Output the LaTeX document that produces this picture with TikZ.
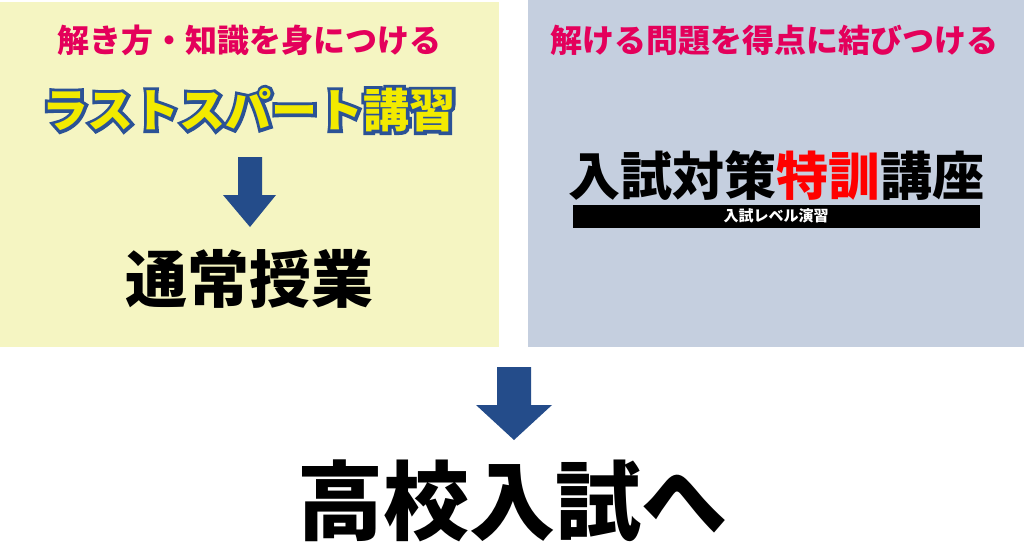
\documentclass[tikz,border=0pt]{standalone}
\usepackage{fontspec}
\usepackage{tikz}
\newfontfamily\jpblack{Noto Sans CJK JP Black}
\newfontfamily\jpedge{Noto Sans CJK JP Black}[FakeBold=14]
\definecolor{panelyellow}{HTML}{F5F5C2}
\definecolor{panelblue}{HTML}{C5CFDF}
\definecolor{arrowblue}{HTML}{244C8A}
\definecolor{headpink}{HTML}{E4005B}
\definecolor{titleyellow}{HTML}{F2EA00}
\definecolor{titleedge}{HTML}{2B5296}

\begin{document}
\begin{tikzpicture}[x=1pt,y=-1pt,
    heading/.style={
% The font:
      font=\jpblack\fontsize{32}{32}\selectfont,
% The colour:
      text=headpink, inner sep=0pt
    },
    bigword/.style={
      font=\jpblack\fontsize{#1}{#1}\selectfont,
      text=black, inner sep=0pt
    },
    blockarrow/.style={fill=arrowblue}]
  \useasboundingbox (0,0) rectangle (1024,542);
  % the two panels
  \fill[panelyellow] (0,2) rectangle (499,347);
  \fill[panelblue] (528,0) rectangle (1024,347);

  % left panel
  \node [heading] (skill) at (249,40) {解き方・知識を身につける};
  \node [inner sep=0pt, text=titleedge, font=\jpedge\fontsize{46}{46}\selectfont]
    (spurtedge) at (249,110) {ラストスパート講習};
  \node [bigword=46, text=titleyellow] (spurt) at (spurtedge) {ラストスパート講習};
  \fill[blockarrow] (238,157) -- (262,157) -- (262,195) -- (276,195)
    -- (250,227) -- (223,195) -- (238,195) -- cycle;
  \node [bigword=62] (regular) at (249,279) {通常授業};

  % right panel
  \node [heading] (score) at (774,40) {解ける問題を得点に結びつける};
  \node [bigword=52] (special) at (776,176) {入試対策\textcolor{red}{特訓}講座};
  \fill[black] (573,205) rectangle (980,228);
  \node [bigword=15, text=white] (level) at (776,216) {入試レベル演習};

  % goal
  \fill[blockarrow] (497,367) -- (531,367) -- (531,405) -- (552,405)
    -- (514,440) -- (476,405) -- (497,405) -- cycle;
  \node [bigword=86] (goal) at (512,501) {高校入試へ};
\end{tikzpicture}
\end{document}
